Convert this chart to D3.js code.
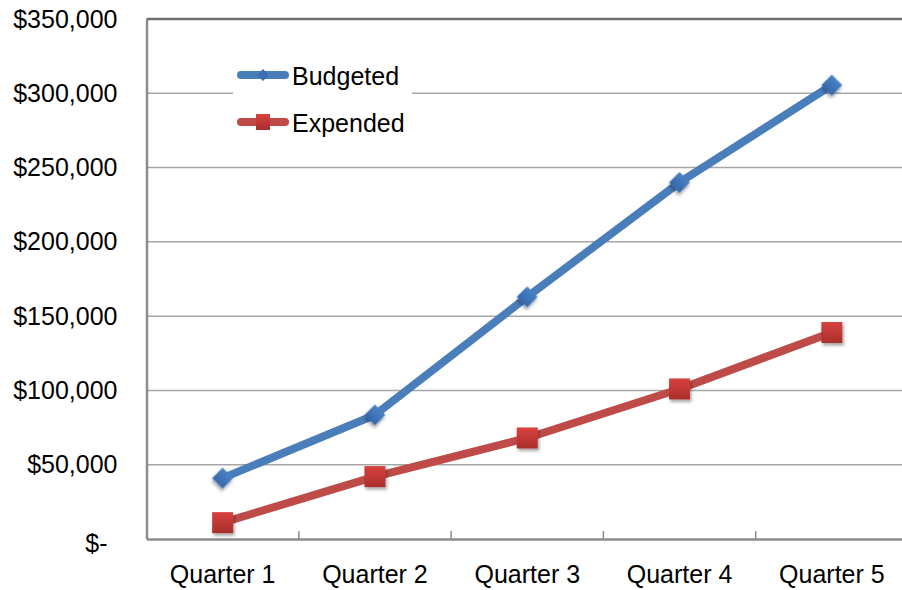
<!DOCTYPE html>
<html>
<head>
<meta charset="utf-8">
<script src="https://cdn.jsdelivr.net/npm/d3@7/dist/d3.min.js"></script>
<style>
  html, body { margin: 0; padding: 0; background: #fff; }
  svg { display: block; font-family: "Liberation Sans", Arial, sans-serif; }
</style>
</head>
<body>
<svg id="chart" width="902" height="590"></svg>
<script>
// Quarterly budget vs. spending
const categories = ["Quarter 1", "Quarter 2", "Quarter 3", "Quarter 4", "Quarter 5"];
const budgeted = [41000, 83500, 163000, 240000, 305500];
const expended = [11000, 42000, 68000, 101000, 139000];
const seriesNames = ["Budgeted", "Expended"];
const yTickValues = [0, 50000, 100000, 150000, 200000, 250000, 300000, 350000];

const svg = d3.select("#chart");
const plot = { left: 146.5, right: 908, top: 19, bottom: 539 };

const x = d3.scaleBand().domain(categories).range([plot.left, plot.right]).padding(0);
const y = d3.scaleLinear().domain([0, 350000]).range([plot.bottom, plot.top]);
const cx = c => x(c) + x.bandwidth() / 2;

const defs = svg.append("defs");
const shadow = defs.append("filter").attr("id", "markerShadow")
  .attr("x", "-50%").attr("y", "-50%").attr("width", "200%").attr("height", "200%");
shadow.append("feDropShadow").attr("dx", 1.5).attr("dy", 2.5)
  .attr("stdDeviation", 1.8).attr("flood-color", "#000").attr("flood-opacity", 0.35);

const redGrad = defs.append("linearGradient").attr("id", "redFill")
  .attr("x1", 0).attr("y1", 0).attr("x2", 0).attr("y2", 1);
redGrad.append("stop").attr("offset", "0%").attr("stop-color", "#d8413e");
redGrad.append("stop").attr("offset", "100%").attr("stop-color", "#a92f2c");

const blueGrad = defs.append("linearGradient").attr("id", "blueFill")
  .attr("x1", 0).attr("y1", 0).attr("x2", 0).attr("y2", 1);
blueGrad.append("stop").attr("offset", "0%").attr("stop-color", "#4a82c6");
blueGrad.append("stop").attr("offset", "100%").attr("stop-color", "#3468aa");

// horizontal gridlines
svg.append("g").selectAll("line")
  .data(yTickValues.filter(v => v > 0 && v < 350000))
  .join("line")
  .attr("x1", plot.left).attr("x2", plot.right)
  .attr("y1", d => y(d)).attr("y2", d => y(d))
  .attr("stroke", "#a6a6a6").attr("stroke-width", 1.5);

// top border of the plot area
svg.append("line")
  .attr("x1", plot.left).attr("x2", plot.right)
  .attr("y1", y(350000)).attr("y2", y(350000))
  .attr("stroke", "#6f6f6f").attr("stroke-width", 2.5);

// y axis
const yAxis = d3.axisLeft(y)
  .tickValues(yTickValues)
  .tickSize(0)
  .tickPadding(29)
  .tickFormat(d => d === 0 ? "$-" : "$" + d3.format(",")(d));
const gy = svg.append("g").attr("transform", `translate(${plot.left},0)`).call(yAxis);
gy.select(".domain").attr("stroke", "#8c8c8c").attr("stroke-width", 2.5);
gy.selectAll("text")
  .attr("font-size", 25).attr("fill", "#000")
  .attr("font-family", "'Liberation Sans', Arial, sans-serif")
  .attr("dx", d => d === 0 ? -10 : 0)
  .attr("dy", d => d === 0 ? "0.5em" : "0.32em");

// x axis with inward ticks at category boundaries
const xAxis = d3.axisBottom(x).tickSize(0).tickPadding(26);
const gx = svg.append("g").attr("transform", `translate(0,${plot.bottom})`).call(xAxis);
gx.select(".domain").attr("stroke", "#8c8c8c").attr("stroke-width", 2.5);
gx.selectAll("text")
  .attr("font-size", 25).attr("fill", "#000")
  .attr("font-family", "'Liberation Sans', Arial, sans-serif");
svg.append("g").selectAll("line")
  .data(categories.slice(1))
  .join("line")
  .attr("x1", d => x(d)).attr("x2", d => x(d))
  .attr("y1", plot.bottom).attr("y2", plot.bottom - 8)
  .attr("stroke", "#8c8c8c").attr("stroke-width", 1.5);

// series
const series = [
  { name: seriesNames[0], values: budgeted, color: "#4a7ebb", shape: "diamond" },
  { name: seriesNames[1], values: expended, color: "#be4b48", shape: "square" }
];

const line = d3.line().x((d, i) => cx(categories[i])).y(d => y(d));

function drawMarker(g, shape, px, py) {
  if (shape === "diamond") {
    g.append("path")
      .attr("d", d3.symbol(d3.symbolSquare, 220)())
      .attr("transform", `translate(${px},${py}) rotate(45)`)
      .attr("fill", "url(#blueFill)")
      .attr("filter", "url(#markerShadow)");
  } else {
    g.append("rect")
      .attr("x", px - 10.5).attr("y", py - 10.5)
      .attr("width", 21).attr("height", 21)
      .attr("fill", "url(#redFill)")
      .attr("filter", "url(#markerShadow)");
  }
}

series.forEach(s => {
  svg.append("path")
    .datum(s.values)
    .attr("d", line)
    .attr("fill", "none")
    .attr("stroke", s.color)
    .attr("stroke-width", 8)
    .attr("stroke-linejoin", "round")
    .attr("stroke-linecap", "round");
  const mg = svg.append("g");
  s.values.forEach((v, i) => drawMarker(mg, s.shape, cx(categories[i]), y(v)));
});

// legend
const legend = svg.append("g");
legend.append("rect")
  .attr("x", 233).attr("y", 55).attr("width", 179).attr("height", 88)
  .attr("fill", "#fff");
series.forEach((s, i) => {
  const ly = 75 + i * 47;
  legend.append("line")
    .attr("x1", 241).attr("x2", 285).attr("y1", ly).attr("y2", ly)
    .attr("stroke", s.color).attr("stroke-width", 8).attr("stroke-linecap", "round");
  if (s.shape === "diamond") {
    legend.append("path")
      .attr("d", d3.symbol(d3.symbolSquare, 70)())
      .attr("transform", `translate(263,${ly}) rotate(45)`)
      .attr("fill", "#3a6fb0");
  } else {
    legend.append("rect")
      .attr("x", 256).attr("y", ly - 8).attr("width", 14).attr("height", 16)
      .attr("fill", "url(#redFill)");
  }
  legend.append("text")
    .attr("x", 292).attr("y", ly + 9.5)
    .attr("font-size", 25).attr("fill", "#000")
    .text(s.name);
});
</script>
</body>
</html>
